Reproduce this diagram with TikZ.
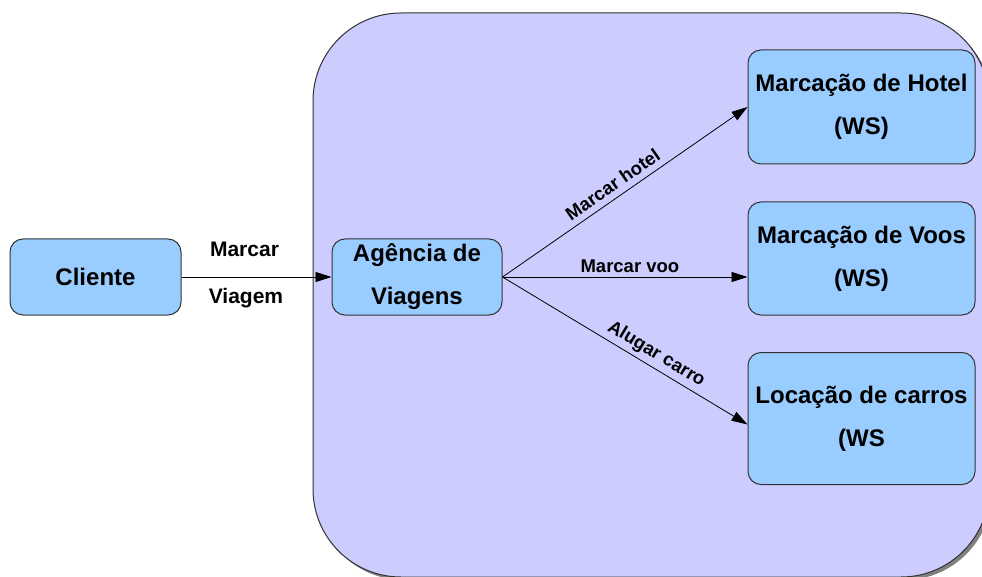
\documentclass[tikz,border=0pt]{standalone}
\usepackage{fontspec}
\setmainfont{Liberation Sans}
\usetikzlibrary{arrows.meta,calc}
\definecolor{boxblue}{HTML}{99CCFF}
\definecolor{areablue}{HTML}{CCCCFF}
\definecolor{edgegray}{HTML}{333333}
\definecolor{shadowgray}{HTML}{808080}
\begin{document}
\begin{tikzpicture}[x=1pt,y=-1pt,
  service/.style={draw=edgegray, line width=1pt, fill=boxblue,
    rounded corners=13pt, inner sep=0pt, align=center,
    font=\bfseries\fontsize{24}{43}\selectfont},
  flow/.style={draw=black, line width=0.8pt,
    -{Triangle[length=16pt,width=10pt]}},
  flowlabel/.style={font=\bfseries\fontsize{18.5}{22}\selectfont,
    inner sep=1pt},
  sidelabel/.style={font=\bfseries\fontsize{21}{24}\selectfont,
    inner sep=1pt}]
\useasboundingbox (0,0) rectangle (982,577);
\clip (0,0) rectangle (982,577);

% agency area with its drop shadow
\fill[shadowgray, rounded corners=88pt] (316,16) rectangle (992,580);
\draw[fill=areablue, draw=edgegray, line width=1pt, rounded corners=88pt]
  (313,13) rectangle (989,577);

% participants
\node[service, minimum width=171pt, minimum height=76pt] (cli) at (95.5,277) {Cliente};
\node[service, minimum width=170pt, minimum height=76pt] (ag) at (417,277) {Agência de\\Viagens};
\node[service, minimum width=227pt, minimum height=114pt] (hotel) at (861.5,107) {Marcação de Hotel\\(WS)};
\node[service, minimum width=227pt, minimum height=113pt] (voos) at (861.5,258.5) {Marcação de Voos\\(WS)};
\node[service, minimum width=227pt, minimum height=132pt] (carros) at (861.5,418.5) {Locação de carros\\(WS};

% client request
\draw[flow] (cli.east) -- (ag.west)
  node[sidelabel, pos=0.42, above=19pt] {Marcar}
  node[sidelabel, pos=0.43, below=10pt] {Viagem};

% agency calls to the services
\draw[flow] (ag.east) -- (hotel.west)
  node[flowlabel, pos=0.48, sloped, above=5pt] {Marcar hotel};
\draw[flow] (ag.east) -- ($(voos.west)+(0,18.5)$)
  node[flowlabel, pos=0.52, above=2.5pt] {Marcar voo};
\draw[flow] (ag.east) -- ($(carros.west)+(0,6)$)
  node[flowlabel, pos=0.6, sloped, above=3pt] {Alugar carro};
\end{tikzpicture}
\end{document}
